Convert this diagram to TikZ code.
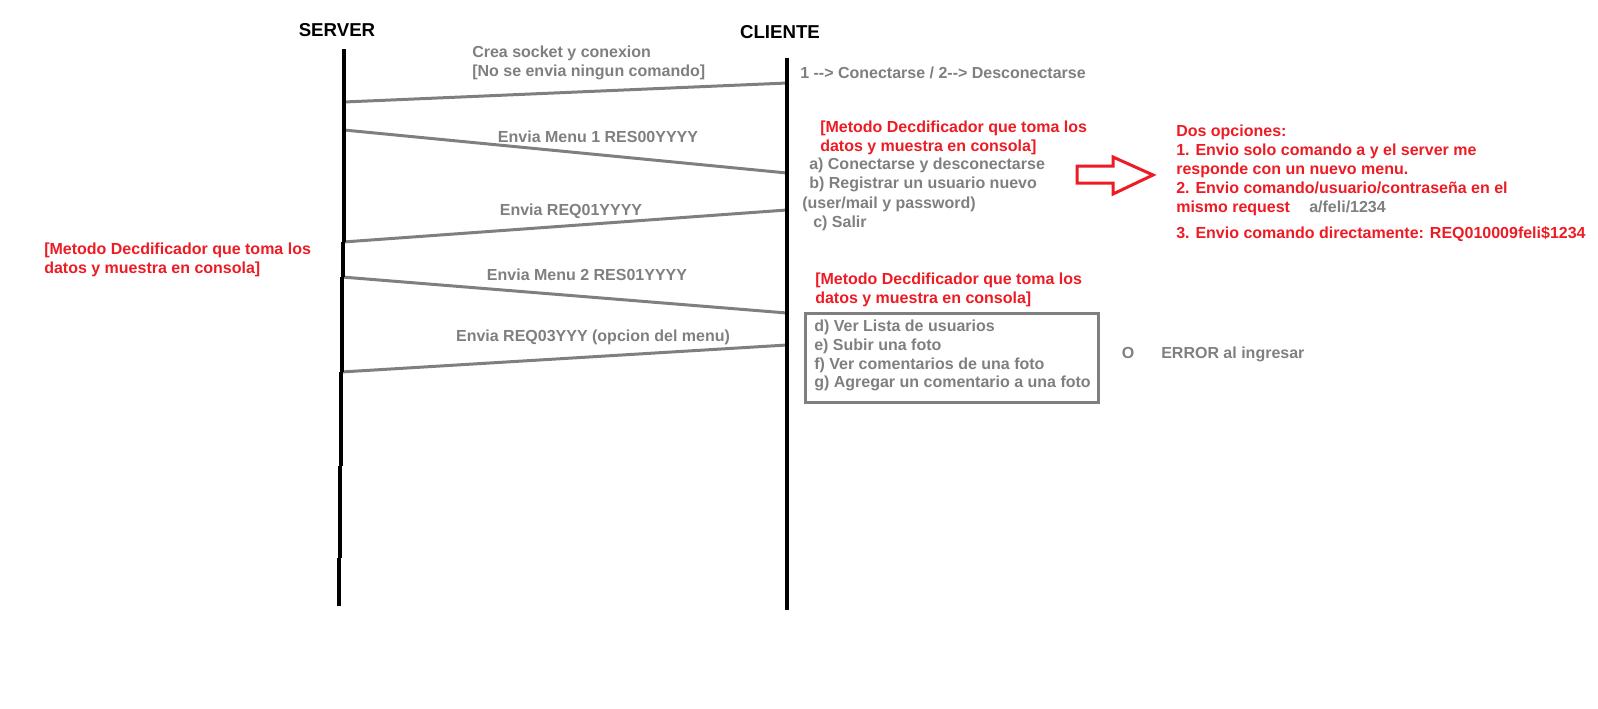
\documentclass[tikz,border=0pt]{standalone}
\usepackage{fontspec}
\setmainfont{Liberation Sans}
\usetikzlibrary{calc}
\definecolor{paintgray}{RGB}{127,127,127}
\definecolor{paintred}{RGB}{237,28,36}

\begin{document}
\begin{tikzpicture}[x=0.75pt,y=-0.75pt,
  every node/.style={inner sep=0pt,font=\fontsize{12}{14.5}\selectfont\bfseries},
  life/.style={line width=3pt},
  msg/.style={paintgray,line width=2.25pt},
  gtxt/.style={paintgray,anchor=base west},
  gmid/.style={paintgray,anchor=base},
  rtxt/.style={paintred,anchor=base west},
  title/.style={font=\fontsize{14}{16}\selectfont\bfseries,anchor=base}]
\useasboundingbox (0,0) rectangle (1598,708);
\node[title] (SRV) at (337,36) {SERVER};
\node[title] (CLI) at (780,38) {CLIENTE};
% message ends on both lifelines
\coordinate (s1) at (344,102); \coordinate (c1) at (787,83);
\coordinate (s2) at (344,130); \coordinate (c2) at (787,173);
\coordinate (s3) at (343,242); \coordinate (c3) at (787,210);
\coordinate (s4) at (342,277); \coordinate (c4) at (787,313);
\coordinate (s5) at (341,372); \coordinate (c5) at (787,345);
\foreach \i in {1,...,5} {
  \draw[msg] (s\i) -- (c\i);
}
\coordinate (CT) at (787,58);
\coordinate (CB) at (787,610);
\draw[life] (CT) -- (CB);
\draw[life] (344,49) -- (s1) -- (s2) -- (344,242) (s3) -- (343,277) (s4) -- (342,372) (s5) -- (341,466) (340,466) -- (340,558) (339,558) -- (339,606);
% labels of the messages
\node[gtxt] (M1a) at (472,57) {Crea socket y conexion};
\node[gtxt] (M1b) at (472,76) {[No se envia ningun comando]};
\node[gmid] (M2) at (598,142) {Envia Menu 1 RES00YYYY};
\node[gmid] (M3) at (571,215) {Envia REQ01YYYY};
\node[gmid] (M4) at (587,280) {Envia Menu 2 RES01YYYY};
\node[gmid] (M5) at (593,341) {Envia REQ03YYY (opcion del menu)};
\node[gtxt] (OPC) at (800,78) {1 -{}-> Conectarse / 2-{}-> Desconectarse};
% first menu
\node[rtxt] (DEC1a) at (820,132) {[Metodo Decdificador que toma los};
\node[rtxt] (DEC1b) at (820,151) {datos y muestra en consola]};
\foreach \x/\y/\t [count=\i] in {809/169/a) Conectarse y desconectarse,809/188/b) Registrar un usuario nuevo,802/208/{(user/mail y password)},813/227/c) Salir} {
  \node[gtxt] (menu\i) at (\x,\y) {\t};
}
\draw[paintred,line width=2.25pt] (1077,166) -- (1113,166) -- (1113,157) -- (1153,175) -- (1113,194) -- (1113,183) -- (1077,183) -- cycle;
\node[rtxt] (OP0) at (1176,136) {Dos opciones:};
\node[rtxt] (OP1a) at (1176,155) {1. Envio solo comando a y el server me};
\node[rtxt] (OP1b) at (1176,174) {responde con un nuevo menu.};
\node[rtxt] (OP2a) at (1176,193) {2. Envio comando/usuario/contraseña en el};
\node[rtxt] (OP2b) at (1176,212) {mismo request};
\node[gtxt] (OP2c) at (1309,212) {a/feli/1234};
\node[rtxt] (OP3) at (1176,238) {3. Envio comando directamente: REQ010009feli\$1234};
% server side
\node[rtxt] (DEC2a) at (44,254) {[Metodo Decdificador que toma los};
\node[rtxt] (DEC2b) at (44,273) {datos y muestra en consola]};
% second menu
\node[rtxt] (DEC3a) at (815,284) {[Metodo Decdificador que toma los};
\node[rtxt] (DEC3b) at (815,303) {datos y muestra en consola]};
\node[draw=paintgray,line width=2.25pt,anchor=north west,minimum width=219.75pt,minimum height=66.75pt] (BOX) at (804,312) {};
\foreach \t [count=\i] in {d) Ver Lista de usuarios,e) Subir una foto,f) Ver comentarios de una foto,g) Agregar un comentario a una foto} {
  \node[gtxt] (opt\i) at (814,{313+18.7*\i}) {\t};
}
\node[gmid] (OR) at (1128,358) {O};
\node[gtxt] (ERR) at (1161,358) {ERROR al ingresar};
\end{tikzpicture}
\end{document}
